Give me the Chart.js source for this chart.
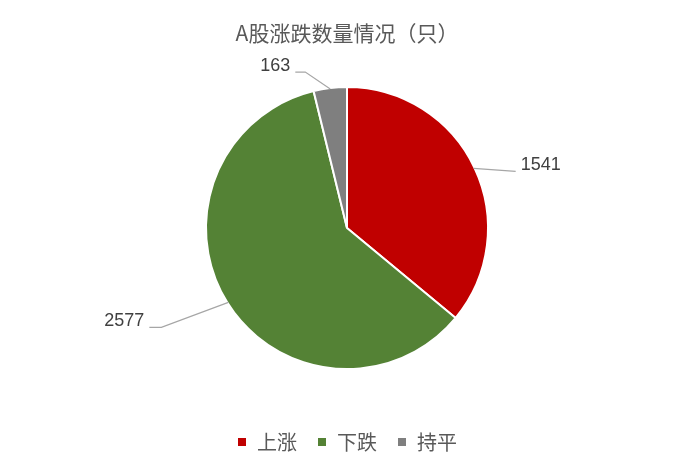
<!DOCTYPE html>
<html>
<head>
<meta charset="utf-8">
<script src="https://cdn.jsdelivr.net/npm/chart.js@4/dist/chart.umd.min.js"></script>
<style>
    html, body { margin: 0; padding: 0; background: #fff; }
    #wrap { width: 684px; height: 468px; }
</style>
</head>
<body>
<div id="wrap"><canvas id="pieChart"></canvas></div>
<script>
// data
const categories = ['上涨', '下跌', '持平'];
const counts = [1541, 2577, 163];
const sliceColors = ['#C00000', '#548235', '#7F7F7F'];

// leader lines: [elbow dx, elbow dy, horizontal run, text side]
const leaders = [
    [42, 3, 0, 1],
    [-67, 25, -12, -1],
    [-25, -17, -10, -1]
];

const outsideLabels = {
    id: 'outsideLabels',
    afterDatasetsDraw(chart) {
        const ctx = chart.ctx;
        const meta = chart.getDatasetMeta(0);
        ctx.save();
        meta.data.forEach((arc, i) => {
            const p = arc.getProps(['x', 'y', 'startAngle', 'endAngle', 'outerRadius']);
            const mid = (p.startAngle + p.endAngle) / 2;
            const ax = p.x + Math.cos(mid) * (p.outerRadius - 1);
            const ay = p.y + Math.sin(mid) * (p.outerRadius - 1);
            const l = leaders[i];
            const ex = ax + l[0];
            const ey = ay + l[1];
            const hx = ex + l[2];

            ctx.strokeStyle = '#A6A6A6';
            ctx.lineWidth = 1.2;
            ctx.beginPath();
            ctx.moveTo(ax, ay);
            ctx.lineTo(ex, ey);
            ctx.lineTo(hx, ey);
            ctx.stroke();

            ctx.fillStyle = '#404040';
            ctx.font = '18px "Liberation Sans", Arial, sans-serif';
            ctx.textBaseline = 'middle';
            ctx.textAlign = l[3] > 0 ? 'left' : 'right';
            ctx.fillText(String(counts[i]), hx + l[3] * 5, ey - 6);
        });
        ctx.restore();
    }
};

new Chart(document.getElementById('pieChart').getContext('2d'), {
    type: 'pie',
    data: {
        labels: categories,
        datasets: [{
            data: counts,
            backgroundColor: sliceColors,
            borderColor: '#FFFFFF',
            borderWidth: 2
        }]
    },
    options: {
        responsive: true,
        maintainAspectRatio: false,
        animation: false,
        radius: 141,
        layout: {
            padding: {left: 10, right: 0, top: 0, bottom: 6}
        },
        plugins: {
            title: {
                display: true,
                text: 'A股涨跌数量情况（只）',
                color: '#595959',
                font: {size: 21, weight: 'normal', family: '"Noto Sans CJK SC", sans-serif', lineHeight: 1.1},
                padding: {top: 21, bottom: 0}
            },
            legend: {
                position: 'bottom',
                labels: {
                    boxWidth: 10,
                    boxHeight: 10,
                    padding: 20,
                    color: '#595959',
                    font: {size: 20, family: '"Noto Sans CJK SC", sans-serif'}
                }
            },
            tooltip: {enabled: false}
        }
    },
    plugins: [outsideLabels]
});
</script>
</body>
</html>
